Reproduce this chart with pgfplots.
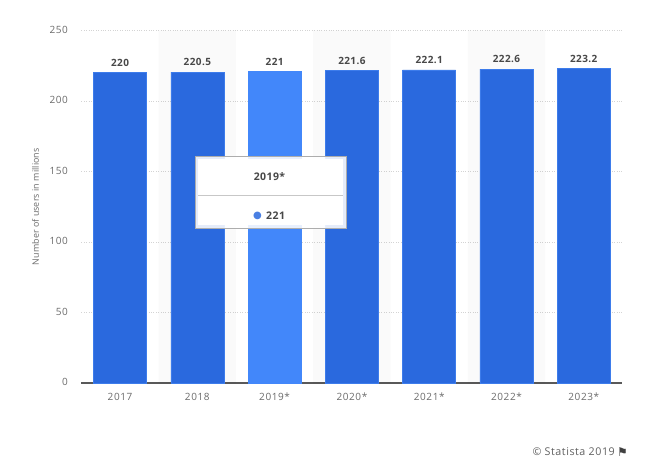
\documentclass[border=0pt]{standalone}
\usepackage{fontspec}
\setmainfont{Open Sans}
\newfontfamily\symfont{DejaVu Sans}
\usepackage{pgfplots}
\pgfplotsset{compat=1.18}
\definecolor{barblue}{HTML}{2A69DE}
\definecolor{baredge}{HTML}{3D7CEB}
\definecolor{hiblue}{HTML}{4287FA}
\definecolor{ticktxt}{HTML}{6B6B6B}
\definecolor{valtxt}{HTML}{484848}
\definecolor{gridc}{HTML}{D4D4D4}
\newcommand{\tickfont}{\fontsize{10}{12}\selectfont\addfontfeature{LetterSpace=6}}
\newcommand{\valfont}{\fontsize{10}{12}\selectfont\bfseries\addfontfeature{LetterSpace=4}}
\begin{document}
\begin{tikzpicture}[x=1pt,y=1pt]
\useasboundingbox (0,0) rectangle (647,466);
\fill[white] (0,0) rectangle (647,466);
\begin{axis}[
    at={(81.4pt,83pt)},
    anchor=south west,
    scale only axis,
    width=541pt,
    height=352.5pt,
    xmin=-0.5, xmax=6.5,
    ymin=0, ymax=250,
    xtick={0,1,2,3,4,5,6},
    xticklabels={2017,2018,2019*,2020*,2021*,2022*,2023*},
    ytick={0,50,100,150,200,250},
    axis x line*=bottom,
    axis y line*=left,
    y axis line style={draw=none},
    x axis line style={draw=black!65,line width=1.4pt,-},
    major tick length=0pt,
    ymajorgrids=true,
    grid style={gridc,dotted,line width=0.6pt},
    tick label style={font=\tickfont,text=ticktxt},
    xticklabel style={yshift=-5.5pt,text height=8pt,text depth=0pt},
    yticklabel style={xshift=-10pt,yshift=0.7pt},
    ylabel={Number of users in millions},
    every axis y label/.style={at={(rel axis cs:0,0.5)},anchor=south,rotate=90,yshift=39pt,
        font=\fontsize{8.9}{10}\selectfont\addfontfeature{LetterSpace=1},text=ticktxt},
    /pgf/number format/assume math mode=true,
    /pgf/number format/fixed,
    /pgf/number format/precision=1,
    /pgf/number format/1000 sep={},
    ybar,
    bar shift=0pt,
    clip=false,
]
\addplot[fill=black,fill opacity=0.02,draw=none,bar width=77.3pt] coordinates {(1,250)(3,250)(5,250)};
\addplot[fill=barblue,draw=baredge,line width=0.6pt,bar width=53pt,
    nodes near coords,
    nodes near coords style={font=\valfont,text=valtxt,yshift=2.5pt}]
    coordinates {(0,220)(1,220.5)(3,221.6)(4,222.1)(5,222.6)(6,223.2)};
\addplot[fill=hiblue,draw=hiblue,line width=0.6pt,bar width=53pt,
    nodes near coords,
    nodes near coords style={font=\valfont,text=valtxt,yshift=2.5pt}]
    coordinates {(2,221)};
\end{axis}
% tooltip
\fill[white,fill opacity=0.88,draw=black!32,draw opacity=1,line width=0.8pt] (195,238) rectangle (346,310);
\fill[white] (198,241) rectangle (343,307);
\draw[black!22,line width=0.8pt] (198,271) -- (343,271);
\node[font=\fontsize{10.5}{12}\selectfont\bfseries\addfontfeature{LetterSpace=4},text=valtxt] at (269.5,289.5) {2019*};
\node[font=\fontsize{10.5}{12}\selectfont\bfseries\addfontfeature{LetterSpace=4},text=valtxt,anchor=west,inner sep=0pt] at (266,250) {221};
\node[font=\symfont\fontsize{10}{10}\selectfont,text=barblue!85!white,anchor=center,inner sep=0pt] at (257.5,250.5) {●};
% source
\node[font=\fontsize{10.7}{12}\selectfont\addfontfeature{LetterSpace=5},text=black!62,anchor=east,inner sep=0pt] at (615,14) {© Statista 2019};
\node[font=\symfont\fontsize{12}{12}\selectfont,text=black!75,anchor=west,inner sep=0pt] at (617,14) {⚑};
\end{tikzpicture}
\end{document}
